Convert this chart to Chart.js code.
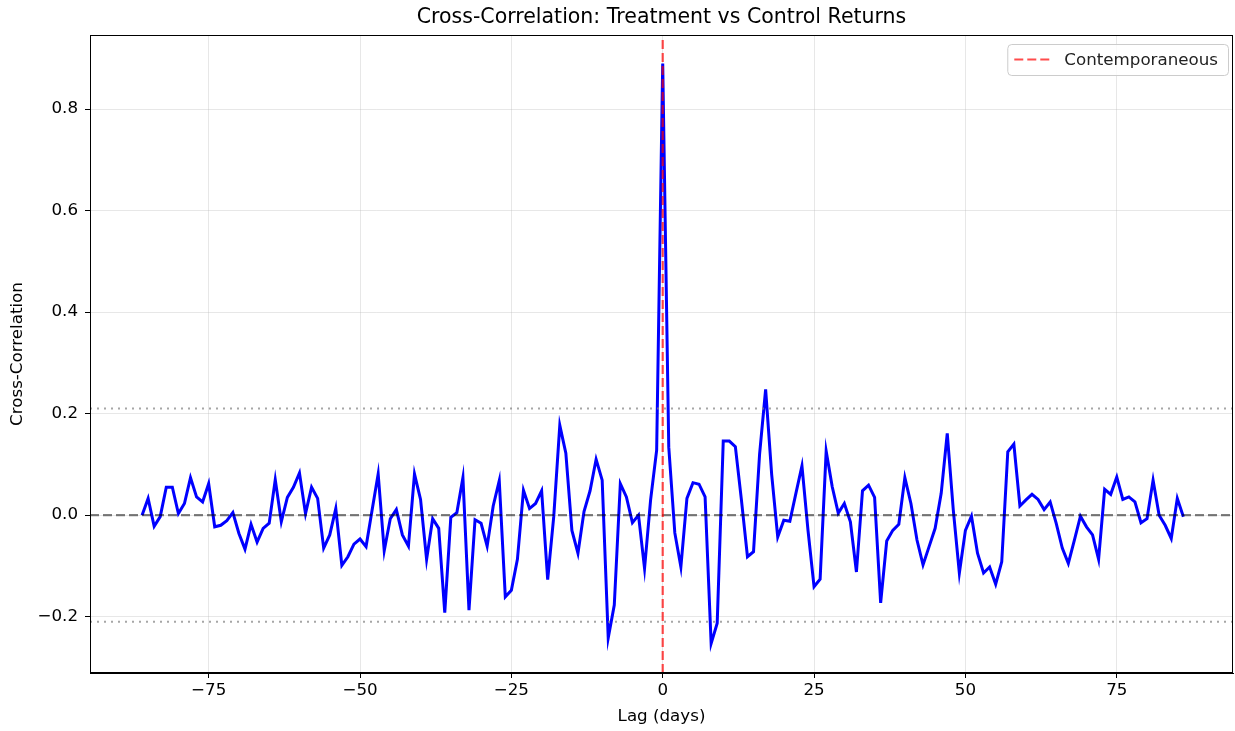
<!DOCTYPE html>
<html>
<head>
<meta charset="utf-8">
<title>Cross-Correlation</title>
<script src="https://cdn.jsdelivr.net/npm/chart.js@4.4.1/dist/chart.umd.min.js"></script>
<style>
  html, body { margin: 0; padding: 0; background: #fff; }
  #wrap { position: relative; width: 1235px; height: 731px; }
</style>
</head>
<body>
<div id="wrap"><canvas id="ccfChart"></canvas></div>
<script>
// --- Data ---
const lagStart = -86;
const lagEnd = 86;
const lags = [];
for (let l = lagStart; l <= lagEnd; l++) lags.push(l);

// cross-correlation per lag, -86 .. 86
const ccf = [
  0.0, 0.033, -0.022, -0.003, 0.055, 0.055, 0.003, 0.023, 0.074, 0.036,      // -86 .. -77
  0.026, 0.062, -0.023, -0.02, -0.011, 0.005, -0.036, -0.067, -0.018, -0.053, // -76 .. -67
  -0.026, -0.016, 0.07, -0.013, 0.035, 0.055, 0.083, 0.003, 0.055, 0.033,    // -66 .. -57
  -0.065, -0.039, 0.013, -0.099, -0.082, -0.057, -0.047, -0.062, 0.01, 0.081, // -56 .. -47
  -0.07, -0.007, 0.011, -0.039, -0.061, 0.081, 0.031, -0.087, -0.007, -0.026, // -46 .. -37
  -0.192, -0.004, 0.005, 0.074, -0.187, -0.009, -0.016, -0.061, 0.018, 0.068, // -36 .. -27
  -0.161, -0.148, -0.087, 0.049, 0.013, 0.023, 0.048, -0.127, -0.003, 0.177,  // -26 .. -17
  0.122, -0.03, -0.075, 0.007, 0.048, 0.11, 0.069, -0.242, -0.177, 0.062,     // -16 .. -7
  0.036, -0.015, 0.0, -0.105, 0.03, 0.128,                                    // -6 .. -1
  0.89,                                                                       // 0
  0.134, -0.035, -0.102, 0.033, 0.064, 0.061, 0.036, -0.253, -0.213, 0.146,   // 1 .. 10
  0.146, 0.135, 0.03, -0.082, -0.072, 0.12, 0.248, 0.08, -0.043, -0.01,       // 11 .. 20
  -0.012, 0.043, 0.097, -0.03, -0.141, -0.126, 0.126, 0.056, 0.004, 0.023,    // 21 .. 30
  -0.013, -0.112, 0.048, 0.059, 0.035, -0.173, -0.051, -0.03, -0.018, 0.074,  // 31 .. 40
  0.023, -0.049, -0.098, -0.062, -0.026, 0.043, 0.161, 0.01, -0.114, -0.03,   // 41 .. 50
  -0.002, -0.075, -0.114, -0.102, -0.136, -0.092, 0.125, 0.14, 0.018, 0.03,   // 51 .. 60
  0.041, 0.031, 0.011, 0.026, -0.016, -0.065, -0.095, -0.049, -0.002, -0.023, // 61 .. 70
  -0.039, -0.087, 0.051, 0.041, 0.075, 0.031, 0.036, 0.026, -0.015, -0.007,   // 71 .. 80
  0.069, 0.0, -0.02, -0.046, 0.033, -0.003                                    // 81 .. 86
];

// significance band and axis limits
const confBand = 0.21;
const xLimits = [-94.6, 94.2];
const yLimits = [-0.311, 0.946];
const xTickStep = 25;
const yTickStep = 0.2;

const chartTitle = "Cross-Correlation: Treatment vs Control Returns";
const fontFamily = "'DejaVu Sans', sans-serif";

const minusSign = (s) => String(s).replace("-", "\u2212");

// --- Plugins: title over the axes, frame, matplotlib-like legend box ---
const axesTitlePlugin = {
  id: "axesTitle",
  afterDraw(chart, args, opts) {
    const { ctx, chartArea: a } = chart;
    ctx.save();
    ctx.font = `${opts.size}px ${fontFamily}`;
    ctx.fillStyle = "#000";
    ctx.textAlign = "center";
    ctx.textBaseline = "middle";
    ctx.fillText(opts.text, (a.left + a.right) / 2, opts.y);
    ctx.restore();
  },
};

const framePlugin = {
  id: "frame",
  afterDraw(chart) {
    const { ctx, chartArea: a } = chart;
    ctx.save();
    ctx.strokeStyle = "#000";
    ctx.lineWidth = 1;
    ctx.strokeRect(a.left + 0.5, a.top + 0.5, a.right - a.left - 1, a.bottom - a.top - 1);
    ctx.restore();
  },
};

const legendBoxPlugin = {
  id: "legendBox",
  afterDraw(chart) {
    const { ctx, chartArea: a } = chart;
    const ds = chart.data.datasets.find((d) => d.showInLegend);
    if (!ds) return;
    ctx.save();
    ctx.font = `16.7px ${fontFamily}`;
    const tw = ctx.measureText(ds.label).width;
    const h = 31;
    const w = 57 + tw + 10;
    const x = a.right - 5 - w;
    const y = a.top + 9;

    ctx.fillStyle = "rgba(255,255,255,0.8)";
    ctx.strokeStyle = "#cccccc";
    ctx.lineWidth = 1;
    ctx.beginPath();
    ctx.roundRect(x + 0.5, y + 0.5, w, h, 4);
    ctx.fill();
    ctx.stroke();

    ctx.strokeStyle = ds.borderColor;
    ctx.lineWidth = ds.borderWidth;
    ctx.setLineDash(ds.borderDash || []);
    ctx.beginPath();
    ctx.moveTo(x + 7, y + h / 2);
    ctx.lineTo(x + 42, y + h / 2);
    ctx.stroke();
    ctx.setLineDash([]);

    ctx.fillStyle = "#222";
    ctx.textBaseline = "middle";
    ctx.fillText(ds.label, x + 57, y + h / 2 + 1);
    ctx.restore();
  },
};

// --- Chart ---
const ctx = document.getElementById("ccfChart");

new Chart(ctx, {
  type: "line",
  data: {
    datasets: [
      {
        label: "Contemporaneous",
        showInLegend: true,
        data: [{ x: 0, y: yLimits[0] }, { x: 0, y: yLimits[1] }],
        borderColor: "rgba(255, 0, 0, 0.7)",
        borderWidth: 2.2,
        borderDash: [9, 4],
        pointRadius: 0,
        order: 0,
      },
      {
        label: "zero",
        data: [{ x: xLimits[0], y: 0 }, { x: xLimits[1], y: 0 }],
        borderColor: "rgba(0, 0, 0, 0.5)",
        borderWidth: 2.2,
        borderDash: [9, 4],
        pointRadius: 0,
        order: 1,
      },
      {
        label: "upper",
        data: [{ x: xLimits[0], y: confBand }, { x: xLimits[1], y: confBand }],
        borderColor: "rgba(128, 128, 128, 0.7)",
        borderWidth: 2,
        borderDash: [2, 5],
        pointRadius: 0,
        order: 1,
      },
      {
        label: "lower",
        data: [{ x: xLimits[0], y: -confBand }, { x: xLimits[1], y: -confBand }],
        borderColor: "rgba(128, 128, 128, 0.7)",
        borderWidth: 2,
        borderDash: [2, 5],
        pointRadius: 0,
        order: 1,
      },
      {
        label: "Cross-Correlation",
        data: lags.map((l, i) => ({ x: l, y: ccf[i] })),
        borderColor: "#0000ff",
        borderWidth: 3,
        pointRadius: 0,
        tension: 0,
        order: 2,
      },
    ],
  },
  options: {
    responsive: true,
    maintainAspectRatio: false,
    animation: false,
    layout: { padding: { left: 0, right: 2, top: 35, bottom: 0 } },
    plugins: {
      legend: { display: false },
      tooltip: { enabled: false },
      title: { display: false },
      axesTitle: { text: chartTitle, size: 20.5, y: 18 },
    },
    scales: {
      x: {
        type: "linear",
        min: xLimits[0],
        max: xLimits[1],
        afterFit: (scale) => { scale.height = 58; },
        ticks: {
          stepSize: xTickStep,
          includeBounds: false,
          color: "#000",
          padding: 3,
          maxRotation: 0,
          font: { family: fontFamily, size: 16.7 },
          callback: (v) => minusSign(v),
        },
        grid: {
          color: "rgba(176, 176, 176, 0.3)",
          tickColor: "#000",
          tickLength: 5,
        },
        border: { color: "#000", width: 1 },
        title: {
          display: true,
          text: "Lag (days)",
          color: "#000",
          font: { family: fontFamily, size: 16.7 },
          padding: { top: 2, bottom: 4 },
        },
      },
      y: {
        type: "linear",
        min: yLimits[0],
        max: yLimits[1],
        afterFit: (scale) => { scale.width = 90; },
        ticks: {
          stepSize: yTickStep,
          includeBounds: false,
          color: "#000",
          padding: 7,
          font: { family: fontFamily, size: 16.7 },
          callback: (v) => minusSign(Number(v).toFixed(1)),
        },
        grid: {
          color: "rgba(176, 176, 176, 0.3)",
          tickColor: "#000",
          tickLength: 5,
        },
        border: { color: "#000", width: 1 },
        title: {
          display: true,
          text: "Cross-Correlation",
          color: "#000",
          font: { family: fontFamily, size: 16.7 },
          padding: { top: 8, bottom: 0 },
        },
      },
    },
  },
  plugins: [axesTitlePlugin, framePlugin, legendBoxPlugin],
});
</script>
</body>
</html>
